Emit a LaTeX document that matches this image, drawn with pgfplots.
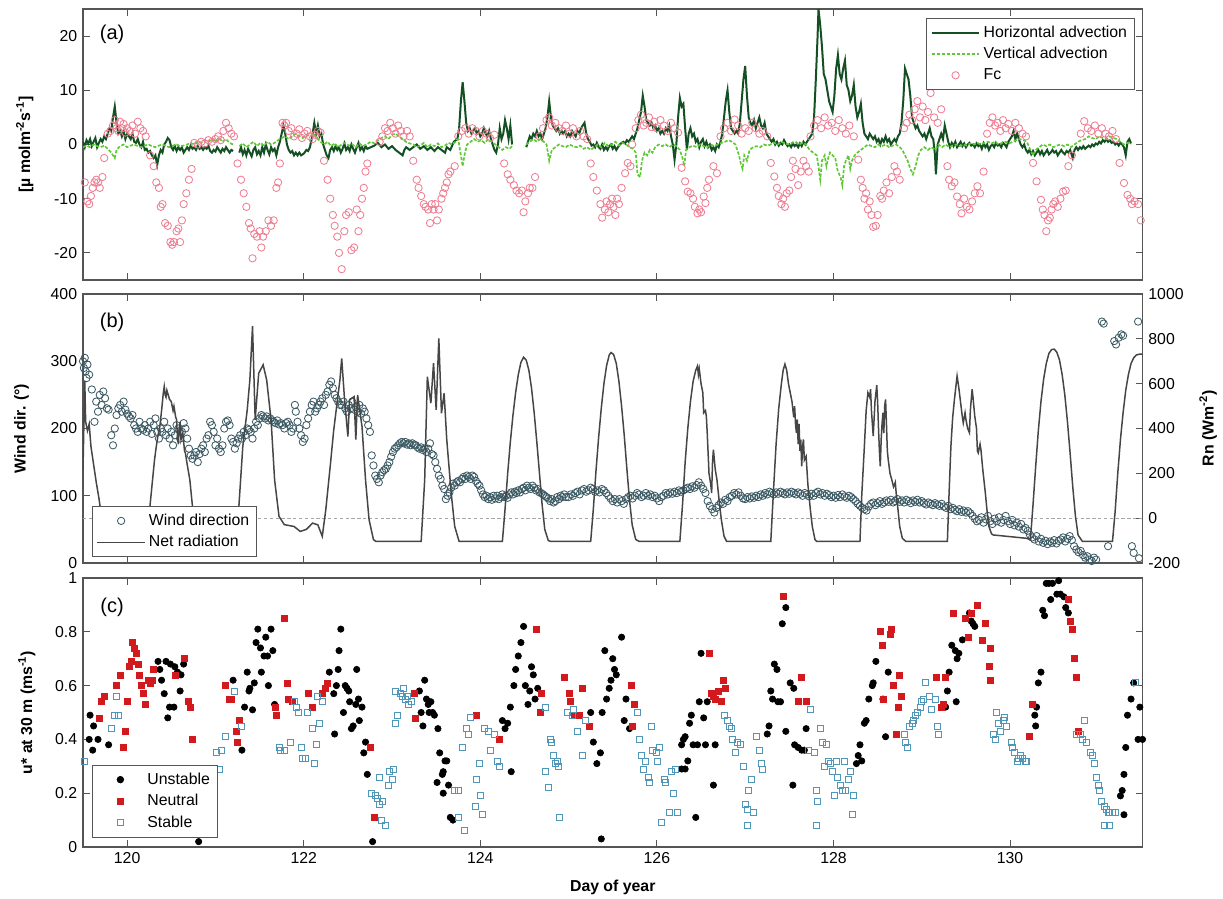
\documentclass[border=0pt]{standalone}
\usepackage{fontspec}
\setmainfont{Liberation Sans}
\usepackage{pgfplots}
\pgfplotsset{compat=1.18}
\definecolor{framec}{RGB}{85,85,85}
\definecolor{hadv}{RGB}{20,80,35}
\definecolor{vadv}{RGB}{95,200,55}
\definecolor{fcc}{RGB}{238,125,145}
\definecolor{windc}{RGB}{60,90,100}
\definecolor{rnc}{RGB}{70,70,70}
\definecolor{neutc}{RGB}{210,25,30}
\definecolor{stabc}{RGB}{80,150,185}
\pgfplotsset{
  myax/.style={scale only axis, width=635.7pt, xmin=119.5, xmax=131.5,
    xtick={120,122,124,126,128,130}, tick align=inside, major tick length=4pt,
    axis line style={framec, line width=0.7pt},
    every tick/.style={framec, line width=0.6pt},
    tick label style={font=\fontsize{9.5}{11}\selectfont},
    label style={font=\fontsize{9.5}{11}\selectfont\bfseries},
    /pgf/number format/assume math mode=true,
    /pgf/number format/set thousands separator={},
    legend style={font=\fontsize{9.5}{12}\selectfont, draw=framec, fill=white, line width=0.6pt, inner sep=2.5pt, row sep=0.5pt},
    legend cell align=left},
  legline/.style={legend image code/.code={\draw[##1] (0cm,0cm) -- (1cm,0cm);}},
  legmark/.style={legend image code/.code={\path[draw=none, fill=none] (0cm,0cm) -- (1cm,0cm); \draw[##1] plot coordinates {(0.5cm,0cm)};}},
}
\begin{document}
\begin{tikzpicture}
\path[use as bounding box] (0,0) rectangle (733.8pt,538.8pt);
% ---------------- (a)
\begin{axis}[myax, at={(49.8pt,370.8pt)}, anchor=south west, height=162.6pt,
  ymin=-25, ymax=25, ytick={-20,-10,0,10,20}, xticklabels={},
  ylabel={[µ molm\textsuperscript{-2}s\textsuperscript{-1}]},
  ylabel style={at={(axis description cs:-0.055,0.5)}, anchor=center},
  legend style={at={(axis description cs:0.993,0.968)}, anchor=north east},
  unbounded coords=jump]
\addplot[hadv, line width=1.2pt, legline] table {
119.50 0.5
119.52 -0.5
119.54 0.8
119.56 0.2
119.58 1
119.60 -0.3
119.62 0.5
119.64 1.2
119.66 -0.5
119.68 0.3
119.70 1
119.72 0.5
119.74 1.5
119.76 1
119.78 2
119.80 3
119.82 2.5
119.84 5
119.86 7
119.88 4
119.90 2
119.92 2.5
119.94 1.5
119.96 2.5
119.98 1
120.00 2
120.02 1.5
120.04 1
120.06 2
120.08 0.5
120.10 0.3
120.12 1
120.14 0
120.16 -0.5
120.18 0.5
120.20 -1
120.22 -0.8
120.24 -1.5
120.26 -1.2
120.28 -2
120.30 -2.5
120.32 -2
120.34 -3.8
120.36 -2
120.38 -1
120.40 -1.5
120.42 0
120.44 0.5
120.46 1.2
120.48 0.8
120.50 -0.5
120.52 -1
120.54 -0.3
120.56 -1.2
120.58 -0.5
120.60 -1
120.62 -0.5
120.64 -1.5
120.66 -1
120.68 -0.5
120.70 -1
120.72 -0.2
120.74 -0.8
120.76 -0.5
120.78 -1
120.80 -0.3
120.82 -0.8
120.84 -0.5
120.86 -1
120.88 -0.5
120.90 -0.8
120.92 -0.2
120.94 -1.2
120.96 -1.5
120.98 -1
121.00 -1.3
121.02 -0.5
121.04 -1
121.06 -1.5
121.08 -0.8
121.10 -1.2
121.12 -0.5
121.14 -1
121.16 -1.5
121.18 -1
121.20 -1.2
121.23 nan
121.27 -1.5
121.29 -0.5
121.31 -1.8
121.33 -1
121.35 -2
121.37 -0.8
121.39 -1.5
121.41 -2.2
121.43 -1
121.45 -0.5
121.47 -1.8
121.49 -1.2
121.51 -2
121.53 -0.5
121.55 -1.5
121.57 0
121.59 -1
121.61 -1.8
121.63 -0.5
121.65 -1.2
121.67 -0.8
121.69 -2
121.71 -0.5
121.73 0.5
121.75 2
121.77 3.5
121.79 2
121.81 0
121.83 -1
121.85 -1.5
121.87 -1.2
121.89 -2
121.91 -1.5
121.93 -2
121.95 -1.5
121.97 -2
121.99 -1.8
122.01 -1.5
122.03 -1
122.05 -1.2
122.07 -0.5
122.09 1
122.11 3
122.12 4
122.14 2
122.16 3.5
122.18 1.5
122.20 2
122.22 0
122.24 -1
122.26 -2
122.28 -2.5
122.30 -1
122.32 -0.5
122.34 -1.2
122.36 -0.3
122.38 -1
122.40 -0.5
122.42 -1.5
122.44 -0.8
122.46 0.2
122.48 -1
122.50 -0.5
122.52 -1.2
122.54 0
122.56 -0.8
122.58 -1.5
122.60 -0.5
122.62 0.3
122.64 -1
122.66 -0.5
122.68 -1.2
122.70 -0.3
122.72 -0.8
122.76 -0.5
122.80 -0.2
122.84 0.3
122.88 -0.5
122.92 0
122.96 -0.8
123.00 -0.3
123.04 -1
123.08 -1.5
123.12 -2
123.14 -1
123.16 -0.5
123.20 -1
123.24 -0.5
123.28 0
123.32 -0.8
123.36 -0.3
123.40 -1
123.44 -0.5
123.48 -1.2
123.52 -0.5
123.56 -1
123.60 -1.5
123.62 -0.5
123.66 -1
123.70 0.5
123.74 1
123.76 3
123.78 8
123.80 11.5
123.82 8
123.84 4
123.86 2.5
123.88 3
123.90 2
123.92 2.5
123.94 3
123.96 2
123.98 2.5
124.00 1.5
124.02 2
124.04 3
124.06 2
124.08 1.5
124.10 2.5
124.12 1
124.14 0
124.16 -1
124.18 -1.5
124.20 0
124.22 3
124.24 1
124.26 2
124.28 4.5
124.30 3
124.32 1
124.34 3.5
124.36 0
124.44 nan
124.52 -0.5
124.54 0.5
124.56 1.5
124.58 1
124.60 2
124.62 1.5
124.64 2.5
124.66 1.5
124.68 2
124.70 1
124.72 2
124.74 3
124.76 5
124.78 8
124.80 5
124.82 3.5
124.84 3
124.86 2.5
124.88 3
124.90 2
124.92 2.5
124.94 2
124.96 2.5
124.98 1.5
125.00 2
125.02 1.5
125.04 2.5
125.06 2
125.08 1.5
125.10 2.5
125.12 2
125.14 3
125.16 3.5
125.18 4
125.20 2
125.22 1
125.24 0.5
125.26 -0.2
125.28 0
125.30 -0.5
125.32 0.3
125.34 -0.5
125.36 -0.8
125.38 0
125.40 -1
125.42 -0.5
125.44 -1
125.46 -0.3
125.48 0
125.50 -0.8
125.52 -0.3
125.54 -1
125.56 -0.5
125.58 0
125.60 0.3
125.62 0.5
125.64 0.2
125.66 0.8
125.68 0.5
125.70 1
125.72 1.5
125.74 1
125.76 2
125.78 3
125.80 4.5
125.82 6
125.84 9
125.86 7
125.88 4.5
125.90 4
125.92 3.5
125.94 4
125.96 3
125.98 3.5
126.00 2.5
126.02 3
126.04 2
126.06 2.5
126.08 2
126.10 3
126.12 2.5
126.14 3.5
126.16 1.5
126.18 0
126.20 -2.8
126.22 0
126.24 5
126.26 8.6
126.28 7
126.30 7.5
126.32 3
126.34 -1
126.36 2
126.38 3
126.40 1.5
126.42 2
126.44 0.5
126.46 1
126.48 -0.5
126.50 0.5
126.52 1
126.54 -0.3
126.56 0.5
126.58 -0.5
126.60 0
126.62 -1
126.64 -0.5
126.66 -1.2
126.68 0
126.70 -0.5
126.72 0.5
126.74 2
126.76 5
126.78 8
126.80 10
126.82 6
126.84 3
126.86 2.5
126.88 2
126.90 2.5
126.92 2
126.94 4
126.96 8
126.98 12
127.00 14.5
127.02 9
127.04 5
127.06 4
127.08 3.5
127.10 4.5
127.12 3
127.14 4
127.16 5
127.18 3.5
127.20 3
127.22 4
127.24 2
127.26 1.5
127.28 1
127.30 0.5
127.32 1
127.34 0
127.36 0.5
127.38 -0.2
127.40 0.3
127.42 0
127.44 0.8
127.46 0.2
127.48 -0.3
127.50 0
127.52 -0.5
127.54 0.2
127.56 -0.3
127.58 0
127.60 -0.5
127.62 0.2
127.64 -0.3
127.66 0.5
127.68 0
127.70 0.5
127.72 1
127.74 1.5
127.76 2
127.78 5
127.80 12
127.82 20
127.83 25
127.85 22
127.87 18
127.89 13
127.91 12
127.93 10
127.95 8
127.97 7
127.99 6
128.01 9
128.03 14
128.05 16.5
128.07 13
128.09 12
128.11 14
128.13 15.5
128.15 11
128.17 10
128.19 8
128.21 9
128.23 11
128.25 7
128.27 5
128.29 6
128.31 7.5
128.33 4
128.35 2
128.37 1.5
128.39 1
128.41 2
128.43 1.5
128.45 1
128.47 1.5
128.49 0.5
128.51 1
128.53 0
128.55 1
128.57 0.5
128.59 1.5
128.61 0.5
128.63 1
128.65 0
128.67 0.5
128.69 1
128.71 0.5
128.73 1.5
128.75 2
128.77 4
128.79 8
128.81 14
128.83 13
128.85 12
128.87 9
128.89 5
128.91 4
128.93 3
128.95 3.5
128.97 2.5
128.99 2
129.01 1.5
129.03 2
129.05 1
129.07 2
129.09 3
129.11 1.5
129.13 1
129.15 -2
129.16 -5.5
129.18 0
129.20 1
129.22 2
129.24 1
129.26 3.5
129.28 2
129.30 0.5
129.32 -0.5
129.34 0.3
129.36 -0.3
129.38 0.5
129.40 -0.5
129.42 0
129.44 0.5
129.46 -0.3
129.48 0.2
129.50 -0.5
129.52 0
129.54 0.3
129.56 -0.2
129.58 0
129.60 -0.5
129.62 0.2
129.64 -0.3
129.66 0
129.68 -0.8
129.70 0.2
129.72 -0.5
129.74 0
129.76 -1
129.78 -0.3
129.80 0
129.82 -0.5
129.84 0.3
129.86 -0.2
129.88 0
129.90 -0.5
129.92 0.3
129.94 0
129.96 -0.5
129.98 0.5
130.00 1
130.02 1.5
130.04 2.5
130.06 1
130.08 2
130.10 1
130.12 0
130.14 -0.5
130.16 0
130.18 -1
130.20 -1.5
130.22 -1
130.24 -1.8
130.26 -1.2
130.28 -2
130.30 -1.5
130.32 -1
130.34 -1.8
130.36 -1.2
130.38 -2
130.40 -1.5
130.42 -1
130.44 -1.8
130.46 -1.5
130.48 -1
130.50 -1.5
130.52 -1.2
130.54 -2
130.56 -1.5
130.58 -1
130.60 -1.5
130.62 -1.8
130.64 -1.2
130.66 -1.5
130.68 -1
130.70 -2
130.71 -2.5
130.73 -1
130.75 -0.5
130.77 -1
130.79 -0.5
130.81 -0.8
130.83 -0.3
130.85 -0.8
130.87 -0.5
130.89 -0.2
130.91 -0.5
130.93 0
130.95 -0.3
130.97 0.2
130.99 0
131.01 0.5
131.03 0.2
131.05 0.8
131.07 0.5
131.09 1
131.11 0.5
131.13 0.8
131.15 0.3
131.17 0.5
131.19 0
131.21 0.3
131.23 -0.2
131.25 0.3
131.27 0
131.29 -0.5
131.31 -2
131.33 0.5
131.35 1
131.37 0.2
};
\addlegendentry{Horizontal advection}
\addplot[vadv, line width=1pt, dash pattern=on 2pt off 1pt, legline] table {
119.50 -0.5
119.54 -0.2
119.58 -0.5
119.62 0
119.66 -0.3
119.70 -0.5
119.74 -0.2
119.78 -0.8
119.82 -1.5
119.86 -2.5
119.88 -1
119.92 -0.3
119.96 0
120.00 -0.5
120.04 -0.2
120.08 0
120.12 -0.3
120.16 -0.5
120.20 -0.2
120.24 0
120.28 -0.3
120.32 -0.5
120.36 -0.2
120.40 0
120.44 -0.3
120.48 -0.5
120.52 -0.2
120.56 0
120.60 -0.3
120.64 -0.2
120.68 0
120.72 0.3
120.76 0
120.80 0.5
120.84 0.3
120.88 0.8
120.92 0.5
120.96 1
121.00 0.5
121.04 1.2
121.08 0.5
121.12 1
121.16 0.3
121.20 0
121.23 nan
121.27 -0.3
121.31 0.2
121.35 -0.5
121.39 0
121.43 0.5
121.47 -0.3
121.51 0.3
121.55 -0.2
121.59 0.5
121.63 0
121.67 0.3
121.71 0.8
121.75 1.2
121.79 1.5
121.83 1
121.87 1.5
121.91 2
121.95 1.5
121.99 1.2
122.03 1.8
122.07 1.5
122.11 2
122.15 1.2
122.19 0.5
122.23 0
122.27 0.5
122.31 -0.3
122.35 0.2
122.39 -0.5
122.43 0
122.47 0.3
122.51 -0.2
122.55 0
122.59 -0.5
122.63 0.2
122.67 -0.3
122.71 0
122.76 0.5
122.80 0.2
122.84 0.8
122.88 1.2
122.92 1.5
122.96 1
123.00 1.8
123.04 2
123.08 1.5
123.12 1
123.16 0.5
123.20 0.2
123.24 0
123.28 -0.5
123.32 -0.2
123.36 0.3
123.40 -0.5
123.44 0
123.48 -0.3
123.52 0.2
123.56 -0.5
123.60 -0.2
123.64 0.3
123.68 0
123.72 0.5
123.75 1
123.78 -2
123.80 -4
123.82 -2
123.85 0
123.89 0.5
123.93 1
123.97 0.5
124.01 0.8
124.05 0.3
124.09 1
124.13 0.5
124.17 0
124.21 -0.5
124.25 -1
124.29 -0.5
124.33 -0.8
124.36 -0.3
124.44 nan
124.52 0
124.56 0.5
124.60 1
124.64 0.5
124.68 1
124.72 0.5
124.75 0
124.78 -3
124.81 -1
124.85 -0.5
124.89 0
124.93 -0.3
124.97 -0.5
125.01 0
125.05 -0.3
125.09 -0.5
125.13 -0.2
125.17 -0.8
125.21 -0.5
125.25 -1
125.29 -0.5
125.33 0
125.37 -0.5
125.41 0.3
125.45 -0.3
125.49 0
125.53 0.5
125.57 -0.2
125.61 0.3
125.65 0
125.69 -0.5
125.73 -0.8
125.76 -1.5
125.78 -5.5
125.81 -6
125.83 -3
125.86 -1.5
125.89 -2
125.92 -1
125.95 -1.5
125.98 -0.5
126.02 0
126.06 -0.3
126.10 0
126.14 -0.5
126.18 0
126.22 -0.3
126.26 -1
126.29 -2.5
126.31 -4
126.33 -1
126.37 -0.5
126.41 -0.2
126.45 -0.5
126.49 0
126.53 -0.3
126.57 -0.5
126.61 0
126.65 -0.3
126.69 0
126.73 0.3
126.77 0.5
126.81 0.8
126.85 0.5
126.89 0
126.93 -2
126.95 -3.5
126.97 -4.5
126.99 -2
127.02 -3
127.05 -1
127.09 -0.5
127.13 -0.3
127.17 -0.5
127.21 0
127.25 -0.2
127.29 0
127.33 0.3
127.37 0
127.41 0.5
127.45 0.2
127.49 0
127.53 0.3
127.57 0.5
127.61 0
127.65 0.3
127.69 0
127.73 -1
127.77 -1.5
127.81 -2
127.83 -4
127.85 -6.5
127.87 -3
127.90 -2
127.92 -4
127.94 -2.5
127.96 -1.5
127.99 -2
128.02 -2.5
128.05 -5
128.08 -6
128.10 -7.5
128.12 -4
128.14 -3
128.17 -2
128.19 -4.5
128.21 -3
128.24 -2
128.27 -1.5
128.31 -1
128.35 -0.5
128.39 0
128.43 -0.3
128.47 -0.5
128.51 0
128.55 -0.3
128.59 0
128.63 -0.5
128.67 -0.2
128.71 0
128.75 -0.5
128.78 -1
128.81 -2
128.84 -3
128.87 -4.5
128.90 -5.5
128.93 -4
128.96 -2
128.99 -1
129.03 -0.5
129.07 -1
129.11 -0.5
129.15 -1
129.19 0
129.23 -0.5
129.27 0
129.31 -0.5
129.35 -0.2
129.39 0
129.43 -0.3
129.47 0
129.51 -0.2
129.55 0.2
129.59 0
129.63 0.3
129.67 0
129.71 0.3
129.75 0.5
129.79 0.2
129.83 0.5
129.87 0
129.91 0.3
129.95 0.5
129.99 0.2
130.03 0.5
130.07 0.8
130.11 1
130.15 0.8
130.19 0.5
130.23 -1
130.26 -2
130.29 -1
130.33 -0.5
130.37 0
130.41 -0.3
130.45 0
130.49 -0.5
130.53 -0.2
130.57 0
130.61 -0.3
130.65 0
130.69 -0.5
130.73 0
130.77 0.5
130.81 0.8
130.85 1
130.89 1.5
130.93 1.2
130.97 1
131.01 1.5
131.05 1.2
131.09 1
131.13 1.5
131.17 1.2
131.21 1
131.25 0.5
131.29 0
131.33 0.3
131.37 0
};
\addlegendentry{Vertical advection}
\addplot[only marks, mark=o, mark size=2.2pt, fcc, mark options={line width=0.5pt}, legmark] table {
119.52 -7
119.55 -10.5
119.57 -11
119.59 -9.5
119.61 -8
119.63 -7
119.65 -6.5
119.67 -7
119.69 -8
119.72 -6
119.74 -2.5
119.78 2
119.81 2.5
119.84 3.5
119.86 4.5
119.88 3
119.90 2.5
119.92 4.2
119.94 3
119.96 3.8
119.98 2.2
120.00 3
120.03 2.5
120.06 3.5
120.09 2
120.12 4.2
120.15 3
120.18 2.5
120.21 1.5
120.26 -2
120.30 -4
120.33 -7
120.36 -8
120.38 -11.5
120.40 -11
120.43 -14.5
120.46 -15
120.49 -18
120.51 -18.5
120.53 -18
120.56 -16
120.58 -15.5
120.60 -18
120.62 -14
120.64 -11
120.67 -9
120.70 -6.5
120.73 -4.5
120.76 0.3
120.80 0
120.84 0.5
120.88 0.2
120.92 0.8
120.96 0.5
121.00 1
121.03 1.5
121.06 0.8
121.09 2.5
121.12 4
121.15 3
121.18 2
121.21 1.5
121.25 -3.5
121.29 -6.5
121.32 -9
121.35 -11.5
121.38 -14.5
121.40 -15.5
121.42 -21
121.44 -16.5
121.47 -17
121.50 -16
121.52 -19
121.54 -17
121.57 -16
121.60 -14
121.63 -15
121.66 -14
121.69 -8
121.71 -7
121.73 -3.5
121.76 4
121.78 3.5
121.80 4
121.83 2.5
121.86 3
121.89 1.5
121.92 2
121.95 2.8
121.98 1.2
122.01 2
122.04 2.5
122.07 1.5
122.10 1
122.13 1.8
122.16 2.5
122.19 2.2
122.23 -3
122.27 -6.5
122.30 -10
122.33 -13
122.35 -15
122.38 -17
122.40 -20
122.43 -23
122.46 -16
122.48 -13
122.51 -12.5
122.54 -19.5
122.57 -19
122.60 -12
122.62 -16
122.64 -13
122.66 -10
122.68 -8
122.70 -5
122.72 -3.5
122.86 0.5
122.89 1.5
122.92 3
122.95 2.5
122.98 4
123.01 3
123.04 2
123.07 3.5
123.10 2.5
123.13 1.5
123.17 2.5
123.20 1.5
123.24 -3
123.28 -6.5
123.30 -8
123.33 -9.5
123.36 -11
123.38 -11.5
123.41 -12
123.43 -14.5
123.45 -11
123.47 -12
123.49 -11
123.51 -14
123.53 -12
123.56 -10
123.58 -9
123.60 -8
123.62 -7
123.64 -5.5
123.66 -5
123.71 -4
123.75 1.5
123.79 2.5
123.83 3
123.87 2
123.91 3
123.95 2.5
123.99 1.5
124.03 2.5
124.07 2
124.11 1.2
124.16 1.8
124.27 -3.5
124.31 -5.5
124.34 -6.5
124.38 -7.5
124.41 -8.5
124.44 -9
124.47 -8.5
124.49 -12.5
124.51 -10.5
124.54 -9
124.56 -8
124.59 -8
124.62 -6
124.67 1.5
124.71 3
124.75 4.5
124.78 5
124.81 3.5
124.85 4
124.89 3
124.93 2.5
124.97 3.5
125.01 2
125.05 3
125.09 1.5
125.13 2.5
125.17 1.5
125.21 1
125.25 -3.5
125.28 -6
125.32 -8.5
125.36 -11
125.38 -13.5
125.41 -12
125.43 -10.5
125.45 -12.5
125.47 -11
125.49 -10
125.51 -11.5
125.53 -13
125.55 -10
125.57 -11
125.60 -8
125.64 -5.3
125.67 -3.4
125.70 -4
125.72 0
125.76 3
125.79 4.5
125.82 5.5
125.85 3.5
125.88 4
125.91 5
125.94 3.2
125.97 4.2
126.00 3
126.04 4.5
126.08 3.5
126.12 2.5
126.16 4
126.20 3
126.24 2.2
126.28 -4.3
126.32 -6.8
126.35 -8.7
126.38 -9
126.41 -10
126.43 -11.5
126.46 -12.7
126.48 -12
126.50 -12.5
126.53 -9.6
126.55 -10.8
126.57 -8
126.59 -6.5
126.64 -4
126.68 -5.3
126.72 1.5
126.76 3
126.80 4
126.84 2.5
126.88 4.6
126.92 3.5
126.96 2
127.00 3
127.04 2.5
127.08 4
127.12 3
127.16 2
127.20 2.5
127.25 1.5
127.29 -3.4
127.33 -5.9
127.36 -8
127.38 -9.5
127.41 -11
127.43 -10
127.45 -11.5
127.47 -9
127.50 -8.5
127.52 -6
127.54 -3
127.57 -4.5
127.60 -7.5
127.63 -5
127.66 -3
127.69 -4
127.72 -5
127.74 1.5
127.78 3.5
127.82 4.5
127.86 3
127.90 5
127.94 3.5
127.98 4
128.02 2.5
128.06 4.5
128.10 3
128.14 2
128.18 3.5
128.23 1.5
128.28 -2.8
128.31 -6.5
128.33 -8
128.35 -10
128.37 -9
128.39 -12
128.41 -10.5
128.43 -13
128.45 -15.2
128.48 -15
128.50 -13
128.53 -9.5
128.55 -10
128.57 -8.5
128.60 -7
128.63 -9
128.66 -6
128.69 -4
128.72 -5
128.75 -6.5
128.80 3
128.83 4
128.86 5.5
128.89 4.5
128.92 6.5
128.95 8
128.98 5
129.01 7
129.04 4.5
129.07 6
129.10 9.5
129.14 5
129.18 4
129.22 6.5
129.29 -4
129.31 -6.5
129.34 -7.7
129.37 -7
129.40 -9.6
129.43 -11
129.45 -12.7
129.48 -10
129.51 -11.5
129.54 -12
129.57 -10.5
129.60 -9
129.63 -7.7
129.66 -9
129.70 -5
129.74 2
129.77 4
129.80 5
129.83 3.5
129.86 4
129.89 2.5
129.92 4.5
129.95 3
129.98 3.8
130.02 2.5
130.06 4
130.10 3
130.14 2
130.18 1.5
130.26 -3.4
130.30 -6.8
130.35 -10.2
130.37 -12
130.39 -13
130.41 -16
130.43 -14
130.45 -13.5
130.47 -12
130.49 -11
130.51 -10.5
130.54 -11.5
130.57 -10
130.60 -8.7
130.63 -8.5
130.66 -4
130.70 -2
130.80 2
130.84 4.3
130.88 3
130.92 2.5
130.96 3.5
131.00 2
131.04 3
131.08 2
131.12 1.5
131.16 2.5
131.20 1
131.24 -3.4
131.29 -7.1
131.33 -9.3
131.36 -10
131.38 -11
131.41 -10.5
131.45 -11
131.48 -14
};
\addlegendentry{Fc}
\node[font=\fontsize{12}{14}\selectfont] at (axis cs:119.83,20.3) {(a)};
\end{axis}
% ---------------- (b) left
\begin{axis}[myax, at={(49.8pt,201pt)}, anchor=south west, height=161.4pt,
  ymin=0, ymax=400, ytick={0,100,200,300,400}, ytick pos=left, xticklabels={},
  ylabel={Wind dir. (°)},
  ylabel style={at={(axis description cs:-0.058,0.5)}, anchor=center}]
\addplot[only marks, mark=o, mark size=2.2pt, windc, mark options={line width=0.5pt}] table {
119.50 300
119.51 290
119.52 305
119.53 285
119.54 275
119.55 295
119.57 280
119.60 258
119.63 210
119.65 240
119.67 225
119.69 250
119.71 235
119.73 255
119.75 245
119.77 230
119.79 228
119.82 190
119.84 175
119.86 200
119.88 220
119.90 230
119.92 235
119.94 225
119.96 240
119.98 228
120.00 222
120.02 218
120.04 215
120.06 220
120.08 205
120.10 200
120.12 195
120.14 210
120.16 200
120.18 198
120.20 205
120.22 195
120.24 200
120.26 210
120.28 192
120.30 205
120.32 215
120.34 195
120.36 185
120.38 200
120.40 195
120.42 210
120.44 190
120.46 200
120.48 185
120.50 195
120.52 175
120.54 190
120.56 205
120.58 200
120.60 185
120.62 195
120.64 208
120.66 200
120.68 185
120.70 170
120.72 160
120.74 155
120.76 160
120.78 165
120.80 150
120.82 162
120.84 170
120.86 175
120.88 165
120.90 185
120.92 190
120.94 210
120.96 205
120.98 195
121.00 175
121.02 185
121.04 170
121.06 165
121.08 175
121.10 200
121.12 210
121.14 212
121.16 205
121.18 185
121.20 180
121.22 170
121.24 178
121.26 185
121.28 190
121.30 185
121.32 195
121.34 190
121.36 200
121.38 198
121.40 195
121.42 185
121.44 200
121.46 210
121.48 205
121.50 215
121.52 220
121.54 218
121.56 215
121.58 218
121.60 212
121.62 215
121.64 212
121.66 210
121.68 208
121.70 212
121.72 206
121.74 208
121.76 205
121.78 200
121.80 208
121.82 210
121.84 205
121.86 195
121.88 200
121.90 235
121.91 225
121.93 210
121.95 200
121.97 190
121.99 180
122.01 185
122.03 205
122.05 215
122.07 225
122.09 235
122.11 240
122.13 225
122.15 230
122.17 235
122.19 240
122.21 245
122.23 235
122.25 250
122.27 255
122.29 265
122.31 270
122.33 260
122.35 250
122.37 245
122.39 240
122.41 235
122.43 235
122.45 240
122.47 230
122.49 225
122.51 235
122.53 230
122.55 240
122.57 228
122.59 232
122.61 225
122.63 235
122.65 222
122.67 230
122.69 225
122.71 215
122.73 205
122.75 195
122.77 160
122.79 145
122.81 130
122.83 125
122.85 120
122.87 130
122.89 135
122.91 138
122.93 140
122.95 145
122.97 150
122.99 158
123.01 165
123.03 170
123.05 172
123.07 175
123.09 178
123.11 180
123.13 178
123.15 180
123.17 176
123.19 178
123.21 175
123.23 178
123.25 176
123.27 175
123.29 172
123.31 170
123.33 172
123.35 168
123.37 170
123.39 165
123.41 170
123.43 178
123.45 162
123.47 160
123.49 150
123.51 140
123.53 130
123.55 125
123.57 115
123.59 110
123.61 95
123.63 100
123.65 105
123.67 112
123.69 118
123.71 115
123.73 120
123.75 122
123.77 120
123.79 125
123.81 128
123.83 125
123.85 130
123.87 128
123.89 125
123.91 130
123.93 128
123.95 122
123.97 118
123.99 115
124.01 108
124.03 102
124.05 98
124.07 100
124.09 95
124.11 98
124.13 94
124.15 100
124.17 96
124.19 100
124.21 95
124.23 98
124.25 102
124.27 98
124.29 100
124.31 97
124.33 102
124.35 105
124.37 102
124.39 106
124.41 104
124.43 108
124.45 105
124.47 110
124.49 112
124.51 108
124.53 115
124.55 112
124.57 110
124.59 115
124.61 112
124.63 108
124.65 110
124.67 105
124.69 104
124.71 102
124.73 100
124.75 98
124.77 96
124.79 92
124.81 95
124.83 90
124.85 92
124.87 98
124.89 95
124.91 100
124.93 98
124.95 102
124.97 98
125.000 98
125.025 102
125.050 100
125.075 104
125.100 106
125.125 102
125.150 108
125.175 110
125.200 106
125.225 108
125.250 112
125.275 110
125.300 106
125.325 108
125.350 105
125.375 110
125.400 108
125.425 104
125.450 100
125.475 96
125.500 92
125.525 95
125.550 90
125.575 95
125.600 92
125.625 88
125.650 95
125.675 98
125.700 100
125.725 96
125.750 100
125.775 104
125.800 102
125.825 98
125.850 100
125.875 104
125.900 100
125.925 102
125.950 98
125.975 100
126.000 96
126.025 92
126.050 98
126.075 100
126.100 104
126.125 102
126.150 105
126.175 103
126.200 106
126.225 104
126.250 108
126.275 106
126.300 108
126.325 110
126.350 112
126.375 110
126.400 114
126.425 112
126.450 116
126.475 120
126.500 115
126.525 110
126.550 104
126.575 92
126.600 85
126.625 80
126.650 75
126.675 82
126.700 86
126.725 90
126.750 88
126.775 94
126.800 92
126.825 98
126.850 100
126.875 104
126.900 102
126.925 105
126.950 100
126.975 96
127.000 95
127.025 98
127.050 96
127.075 99
127.100 97
127.125 100
127.150 98
127.175 102
127.200 100
127.225 104
127.250 102
127.275 106
127.300 104
127.325 102
127.350 105
127.375 103
127.400 106
127.425 104
127.450 102
127.475 105
127.500 103
127.525 106
127.550 104
127.575 102
127.600 105
127.625 103
127.650 100
127.675 104
127.700 102
127.725 99
127.750 103
127.775 100
127.800 104
127.825 106
127.850 102
127.875 104
127.900 100
127.925 103
127.950 101
127.975 98
128.000 100
128.025 97
128.050 101
128.075 98
128.100 102
128.125 99
128.150 97
128.175 100
128.200 98
128.225 95
128.250 92
128.275 88
128.300 85
128.325 82
128.350 80
128.375 78
128.400 84
128.425 88
128.450 90
128.475 86
128.500 89
128.525 92
128.550 88
128.575 90
128.600 93
128.625 91
128.650 94
128.675 90
128.700 92
128.725 95
128.750 91
128.775 93
128.800 90
128.825 94
128.850 92
128.875 89
128.900 93
128.925 91
128.950 94
128.975 90
129.000 92
129.025 89
129.050 87
129.075 90
129.100 88
129.125 86
129.150 89
129.175 87
129.200 85
129.225 88
129.250 84
129.275 82
129.300 85
129.325 80
129.350 82
129.375 79
129.400 77
129.425 80
129.450 76
129.475 78
129.500 75
129.525 77
129.550 74
129.575 70
129.600 66
129.625 62
129.650 64
129.675 68
129.700 60
129.725 65
129.750 70
129.775 62
129.800 58
129.825 66
129.850 62
129.875 68
129.900 60
129.925 64
129.950 70
129.975 62
130.000 58
130.025 64
130.050 56
130.075 60
130.100 54
130.125 58
130.150 50
130.175 52
130.200 48
130.225 42
130.250 38
130.275 35
130.300 40
130.325 32
130.350 36
130.375 30
130.400 33
130.425 28
130.450 32
130.475 30
130.500 34
130.525 29
130.550 33
130.575 35
130.600 38
130.625 32
130.650 36
130.675 40
130.700 34
130.725 25
130.750 20
130.775 16
130.800 18
130.825 12
130.850 8
130.875 10
130.900 5
130.925 3
130.950 8
130.975 5
131.040 359
131.060 356
131.110 25
131.180 330
131.200 325
131.230 335
131.260 340
131.280 338
131.380 25
131.400 15
131.450 359
131.460 7
};
\node[font=\fontsize{12}{14}\selectfont] at (axis cs:119.83,358) {(b)};
\end{axis}
% ---------------- (b) right
\begin{axis}[myax, at={(49.8pt,201pt)}, anchor=south west, height=161.4pt,
  axis x line=none, axis y line*=right, ymin=-200, ymax=1000,
  ytick={-200,0,200,400,600,800,1000}, ytick pos=right,
  ylabel={Rn (Wm\textsuperscript{-2})},
  ylabel style={at={(axis description cs:1.062,0.5)}, anchor=center},
  legend style={at={(axis description cs:0.0085,0.021)}, anchor=south west}]
\addplot[gray!70, line width=0.5pt, dash pattern=on 2pt off 1.5pt, forget plot] coordinates {(119.5,0) (131.5,0)};
\addlegendimage{only marks, mark=o, mark size=2.2pt, windc, mark options={line width=0.5pt}, legmark}
\addlegendentry{Wind direction}
\addplot[rnc, line width=0.9pt, legline] table {
119.50 216
119.51 420
119.52 612
119.53 430
119.55 390
119.57 420
119.59 320
119.62 240
119.65 160
119.68 90
119.72 -20
119.76 -90
119.80 -100
120.20 -100
120.23 -40
120.26 60
120.29 180
120.31 260
120.33 320
120.35 370
120.37 409
120.39 480
120.41 560
120.42 587
120.43 550
120.44 540
120.45 570
120.46 557
120.48 530
120.50 520
120.52 480
120.53 499
120.55 450
120.56 440
120.57 360
120.58 330
120.59 400
120.60 430
120.61 350
120.63 380
120.65 300
120.66 290
120.68 240
120.71 171
120.74 52
120.77 -60
120.80 -100
121.22 -100
121.25 -40
121.31 320
121.36 483
121.39 617
121.42 857
121.45 439
121.49 646
121.54 684
121.58 617
121.63 439
121.67 171
121.72 8
121.78 -29
121.89 -37
121.96 -59
122.03 -50
122.10 -22
122.16 -30
122.21 -81
122.25 38
122.30 232
122.34 394
122.41 617
122.43 713
122.46 542
122.50 364
122.52 528
122.57 542
122.59 350
122.61 550
122.66 409
122.70 171
122.74 -7
122.79 -96
122.82 -104
123.33 -104
123.37 171
123.40 631
123.44 513
123.47 691
123.50 483
123.53 802
123.56 468
123.59 557
123.62 350
123.67 112
123.71 -37
123.76 -104
124.25 -104
124.28 40
124.31 200
124.34 340
124.37 460
124.40 560
124.43 640
124.46 695
124.49 718
124.52 705
124.55 660
124.58 580
124.61 470
124.64 340
124.67 200
124.70 60
124.73 -50
124.77 -100
124.80 -104
125.25 -104
125.28 40
125.31 210
125.34 360
125.37 490
125.40 600
125.43 680
125.46 728
125.48 739
125.51 730
125.54 690
125.57 610
125.60 500
125.63 370
125.66 220
125.69 80
125.72 -30
125.76 -95
125.80 -104
126.26 -104
126.29 60
126.32 250
126.35 400
126.38 520
126.41 610
126.44 660
126.46 679
126.47 640
126.48 665
126.50 600
126.52 560
126.53 470
126.55 480
126.56 455
126.57 380
126.59 201
126.61 150
126.62 112
126.63 250
126.64 306
126.66 220
126.68 172
126.71 60
126.73 -7
126.76 -80
126.79 -104
127.29 -104
127.32 120
127.35 330
127.38 490
127.41 600
127.43 660
127.45 687
127.47 660
127.49 600
127.51 560
127.53 520
127.55 450
127.56 500
127.57 420
127.58 380
127.59 440
127.60 330
127.61 420
127.62 300
127.63 350
127.64 231
127.65 320
127.66 351
127.67 260
127.69 276
127.71 150
127.72 112
127.74 30
127.76 -37
127.79 -95
127.81 -104
128.30 -104
128.32 100
128.35 321
128.37 480
128.39 560
128.41 540
128.42 575
128.43 480
128.45 366
128.47 520
128.49 593
128.50 520
128.51 400
128.52 300
128.53 231
128.54 350
128.55 420
128.56 470
128.57 380
128.58 500
128.59 530
128.60 420
128.61 300
128.62 261
128.64 200
128.66 172
128.68 140
128.70 160
128.71 112
128.73 40
128.75 -37
128.78 -90
128.82 -104
129.29 -104
129.31 120
129.33 321
129.35 450
129.37 530
129.39 600
129.40 634
129.42 580
129.44 515
129.46 450
129.47 425
129.49 470
129.50 440
129.52 400
129.54 381
129.55 480
129.57 575
129.58 540
129.60 455
129.62 400
129.63 300
129.64 291
129.66 330
129.67 306
129.69 220
129.72 112
129.74 30
129.76 -37
129.79 -70
129.81 -75
129.99 -82
130.19 -90
130.23 -97
130.26 60
130.29 230
130.32 390
130.35 520
130.38 620
130.41 690
130.44 735
130.47 752
130.50 754
130.53 740
130.56 705
130.59 640
130.62 550
130.65 430
130.68 290
130.71 140
130.74 10
130.77 -75
130.82 -104
131.16 -104
131.19 30
131.22 200
131.25 350
131.28 470
131.31 570
131.34 640
131.37 690
131.40 715
131.43 728
131.47 732
131.50 731
};
\addlegendentry{Net radiation}
\end{axis}
% ---------------- (c)
\begin{axis}[myax, at={(49.8pt,30.6pt)}, anchor=south west, height=161.4pt,
  ymin=0, ymax=1, ytick={0,0.2,0.4,0.6,0.8,1},
  /pgf/number format/fixed,
  xlabel={Day of year},
  xlabel style={at={(axis description cs:0.5,-0.149)}, anchor=center},
  ylabel={u* at 30 m (ms\textsuperscript{-1})},
  ylabel style={at={(axis description cs:-0.053,0.5)}, anchor=center},
  legend style={at={(axis description cs:0.0085,0.035)}, anchor=south west}]
\addplot[only marks, mark=*, mark size=1.9pt, black, legmark] table {
119.57 0.40
119.58 0.49
119.61 0.36
119.62 0.45
119.67 0.40
119.79 0.38
120.35 0.69
120.37 0.66
120.39 0.62
120.42 0.57
120.44 0.69
120.46 0.48
120.48 0.52
120.53 0.52
120.49 0.68
120.54 0.67
120.57 0.65
120.60 0.58
120.61 0.64
120.64 0.68
120.81 0.02
121.20 0.62
121.30 0.36
121.33 0.52
121.36 0.65
121.38 0.58
121.39 0.59
121.42 0.51
121.44 0.61
121.46 0.76
121.48 0.81
121.51 0.74
121.52 0.65
121.55 0.71
121.57 0.78
121.59 0.71
121.63 0.81
121.65 0.73
121.60 0.60
121.67 0.53
122.29 0.65
122.34 0.57
122.37 0.60
122.40 0.73
122.42 0.81
122.39 0.66
122.45 0.50
122.35 0.42
122.47 0.60
122.49 0.59
122.51 0.58
122.52 0.54
122.54 0.44
122.56 0.45
122.59 0.53
122.60 0.66
122.62 0.55
122.63 0.47
122.66 0.52
122.68 0.35
122.70 0.39
122.72 0.27
122.78 0.02
123.31 0.58
123.33 0.50
123.35 0.45
123.37 0.62
123.39 0.55
123.41 0.53
123.42 0.50
123.44 0.54
123.46 0.50
123.48 0.49
123.52 0.44
123.54 0.35
123.57 0.27
123.58 0.28
123.60 0.32
123.62 0.32
123.51 0.24
123.58 0.20
123.64 0.23
123.66 0.11
123.69 0.10
124.25 0.47
124.28 0.44
124.31 0.46
124.34 0.52
124.35 0.28
124.38 0.60
124.40 0.66
124.43 0.71
124.46 0.76
124.49 0.82
124.51 0.60
124.54 0.53
124.56 0.58
124.58 0.67
124.60 0.64
124.62 0.55
124.65 0.59
125.25 0.50
125.28 0.39
125.32 0.31
125.36 0.35
125.37 0.03
125.41 0.73
125.43 0.55
125.46 0.59
125.48 0.62
125.50 0.70
125.52 0.66
125.38 0.50
125.54 0.64
125.60 0.78
125.63 0.47
125.65 0.55
125.69 0.44
126.28 0.38
126.30 0.40
126.32 0.41
126.35 0.32
126.37 0.46
126.39 0.49
126.41 0.38
126.44 0.11
126.46 0.38
126.48 0.54
126.50 0.72
126.53 0.48
126.55 0.38
126.57 0.54
126.64 0.23
126.66 0.38
126.28 0.29
126.32 0.29
127.25 0.42
127.27 0.45
127.29 0.58
127.33 0.68
127.36 0.66
127.31 0.55
127.37 0.54
127.40 0.54
127.42 0.83
127.46 0.89
127.46 0.43
127.51 0.61
127.54 0.23
127.55 0.59
127.56 0.38
127.60 0.37
127.64 0.36
127.67 0.36
127.69 0.44
128.26 0.31
128.28 0.34
128.30 0.38
128.32 0.32
128.35 0.46
128.37 0.47
128.40 0.55
128.44 0.60
128.45 0.61
128.48 0.69
128.56 0.55
128.59 0.41
128.62 0.65
129.27 0.52
129.29 0.58
129.31 0.65
129.34 0.75
129.38 0.73
129.39 0.54
129.40 0.70
129.42 0.72
129.46 0.77
129.54 0.87
129.56 0.84
129.58 0.83
129.60 0.82
130.28 0.49
130.29 0.45
130.30 0.52
130.32 0.61
130.35 0.65
130.37 0.88
130.39 0.86
130.41 0.98
130.44 0.98
130.46 0.92
130.48 0.98
130.53 0.94
130.55 0.99
130.57 0.94
130.61 0.93
130.63 0.89
130.66 0.87
131.25 0.19
131.27 0.21
131.29 0.27
131.29 0.12
131.31 0.37
131.33 0.49
131.37 0.55
131.40 0.61
131.45 0.40
131.47 0.52
131.50 0.40
};
\addlegendentry{Unstable}
\addplot[only marks, mark=square*, mark size=1.8pt, neutc, legmark] table {
119.69 0.48
119.71 0.54
119.74 0.56
119.88 0.60
119.92 0.64
119.96 0.37
119.98 0.43
120.00 0.54
120.03 0.67
120.05 0.69
120.06 0.76
120.08 0.74
120.10 0.72
120.13 0.68
120.14 0.64
120.16 0.60
120.18 0.57
120.21 0.53
120.24 0.62
120.28 0.62
120.30 0.66
120.26 0.61
120.55 0.64
120.65 0.70
120.69 0.54
120.72 0.52
120.74 0.40
121.11 0.60
121.16 0.55
121.18 0.55
121.24 0.43
121.25 0.39
121.27 0.47
121.68 0.52
121.69 0.49
121.78 0.85
121.81 0.61
121.83 0.55
121.87 0.54
122.05 0.57
122.10 0.52
122.21 0.57
122.24 0.59
122.27 0.61
122.75 0.37
122.80 0.11
123.25 0.57
123.26 0.48
123.96 0.49
124.21 0.40
124.63 0.81
124.69 0.57
124.68 0.50
124.95 0.63
125.01 0.57
125.02 0.54
125.07 0.49
125.12 0.49
125.16 0.59
125.23 0.45
125.71 0.60
125.75 0.53
125.72 0.45
126.59 0.72
126.62 0.57
126.64 0.56
126.66 0.55
126.70 0.58
126.73 0.54
126.75 0.62
126.77 0.59
127.43 0.93
127.64 0.63
127.60 0.54
127.69 0.54
128.53 0.80
128.55 0.75
128.64 0.79
128.66 0.81
128.57 0.55
128.68 0.60
128.71 0.42
128.73 0.52
128.75 0.64
128.77 0.56
129.16 0.63
129.22 0.52
129.24 0.53
129.27 0.63
129.36 0.87
129.49 0.85
129.53 0.78
129.56 0.87
129.63 0.90
129.72 0.83
129.69 0.77
129.78 0.74
129.76 0.67
129.78 0.62
130.25 0.53
130.22 0.41
130.66 0.92
130.68 0.84
130.71 0.81
130.73 0.70
130.75 0.63
130.77 0.43
};
\addlegendentry{Neutral}
\addplot[only marks, mark=square, mark size=1.8pt, stabc, mark options={line width=0.5pt}, legmark] table {
119.52 0.32
119.82 0.44
119.86 0.49
119.90 0.49
119.88 0.56
121.01 0.35
121.04 0.29
121.07 0.36
121.11 0.41
121.29 0.45
121.22 0.58
121.72 0.37
121.74 0.36
121.78 0.36
121.85 0.39
121.89 0.54
121.92 0.52
121.94 0.50
121.97 0.37
121.98 0.33
122.02 0.33
122.04 0.50
122.12 0.31
122.10 0.44
122.14 0.38
122.18 0.46
122.16 0.56
122.21 0.54
122.77 0.20
122.81 0.19
122.84 0.18
122.86 0.16
122.89 0.17
122.86 0.26
122.93 0.08
122.88 0.10
122.96 0.23
122.97 0.28
123.00 0.25
123.02 0.29
123.04 0.46
123.06 0.49
123.04 0.58
123.09 0.57
123.12 0.56
123.13 0.59
123.15 0.55
123.17 0.56
123.19 0.53
123.22 0.54
123.71 0.21
123.75 0.21
123.82 0.06
123.75 0.11
123.80 0.37
123.84 0.44
123.87 0.42
123.89 0.48
123.96 0.25
123.99 0.31
124.00 0.19
123.94 0.15
124.02 0.12
124.05 0.44
124.09 0.43
124.11 0.36
124.16 0.42
124.19 0.32
124.22 0.30
124.74 0.52
124.77 0.22
124.74 0.28
124.79 0.40
124.81 0.39
124.83 0.34
124.85 0.31
124.87 0.32
124.88 0.30
124.90 0.11
124.99 0.50
125.04 0.49
125.06 0.51
125.10 0.43
125.16 0.34
125.19 0.47
125.78 0.50
125.80 0.40
125.83 0.34
125.85 0.29
125.87 0.32
125.90 0.26
125.92 0.24
125.94 0.45
125.95 0.36
125.99 0.35
126.01 0.32
126.03 0.37
126.05 0.09
126.08 0.25
126.10 0.24
126.14 0.13
126.16 0.28
126.19 0.20
126.23 0.13
126.21 0.29
126.77 0.49
126.80 0.47
126.82 0.45
126.84 0.44
126.86 0.40
126.89 0.35
126.91 0.39
126.95 0.38
126.98 0.30
127.00 0.16
127.02 0.14
127.04 0.21
127.07 0.25
127.09 0.13
127.02 0.08
127.13 0.41
127.16 0.36
127.18 0.31
127.20 0.29
127.74 0.51
127.72 0.36
127.78 0.35
127.81 0.21
127.82 0.17
127.81 0.08
127.85 0.44
127.87 0.39
127.90 0.30
127.92 0.38
127.94 0.32
127.96 0.31
127.99 0.28
128.01 0.19
128.03 0.32
128.05 0.26
128.08 0.23
128.10 0.21
128.12 0.32
128.14 0.21
128.17 0.25
128.19 0.28
128.21 0.12
128.23 0.19
128.80 0.42
128.82 0.39
128.84 0.37
128.86 0.45
128.89 0.46
128.91 0.47
128.93 0.49
128.95 0.50
128.98 0.52
129.00 0.54
129.02 0.55
129.04 0.61
129.09 0.56
129.11 0.51
129.16 0.55
129.18 0.45
129.19 0.42
129.81 0.42
129.83 0.40
129.85 0.50
129.87 0.46
129.89 0.43
129.92 0.47
129.94 0.48
129.96 0.45
130.01 0.39
130.03 0.37
130.05 0.35
130.08 0.32
130.10 0.33
130.12 0.34
130.14 0.33
130.17 0.32
130.19 0.32
130.75 0.42
130.80 0.42
130.82 0.40
130.84 0.47
130.86 0.39
130.91 0.35
130.93 0.34
130.95 0.31
130.98 0.26
131.00 0.23
131.01 0.21
131.04 0.17
131.07 0.15
131.09 0.14
131.11 0.13
131.13 0.13
131.16 0.13
131.19 0.13
131.07 0.08
131.13 0.08
131.42 0.61
};
\addlegendentry{Stable}
\node[font=\fontsize{12}{14}\selectfont] at (axis cs:119.83,0.89) {(c)};
\end{axis}
\end{tikzpicture}
\end{document}
